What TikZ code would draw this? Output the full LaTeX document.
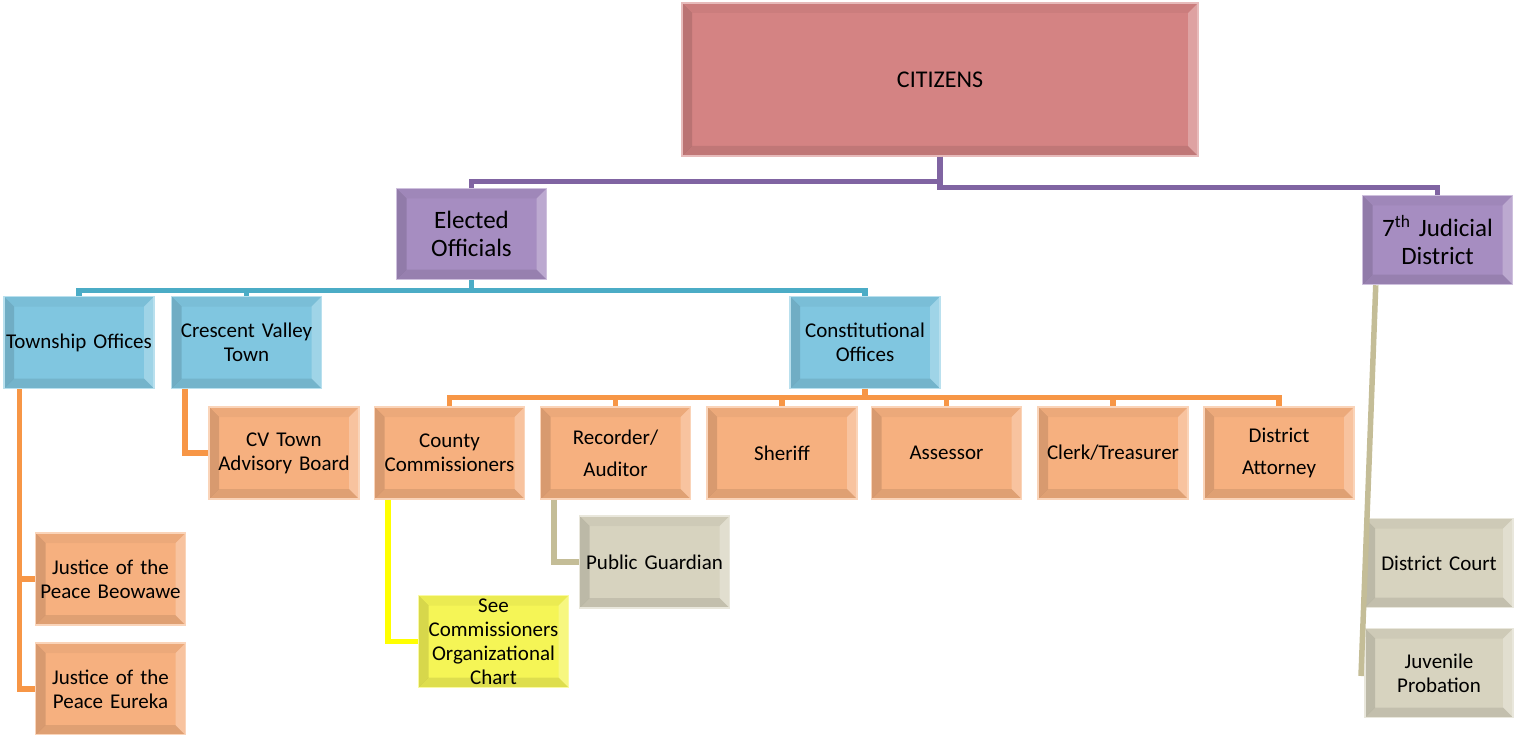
\documentclass[tikz,border=0pt]{standalone}
\usepackage{fontspec}
\setmainfont{Carlito}
\definecolor{citc}{HTML}{D48383}
\definecolor{purc}{HTML}{A68DC1}
\definecolor{bluc}{HTML}{80C6E0}
\definecolor{orac}{HTML}{F6B07F}
\definecolor{grac}{HTML}{D7D3BF}
\definecolor{yelc}{HTML}{F5F556}
\definecolor{lpur}{HTML}{8064A2}
\definecolor{lblu}{HTML}{4BACC6}
\definecolor{lora}{HTML}{F79646}
\definecolor{lyel}{HTML}{FFFF00}
\definecolor{lgra}{HTML}{C4BD97}
\tikzset{
  bevel/.style={path picture={
    \path (path picture bounding box.north west) coordinate (bvnw)
          (path picture bounding box.north east) coordinate (bvne)
          (path picture bounding box.south west) coordinate (bvsw)
          (path picture bounding box.south east) coordinate (bvse);
    \fill[black,opacity=.12] (bvnw) -- (bvsw) -- ([shift={(10pt,10pt)}]bvsw) -- ([shift={(10pt,-10pt)}]bvnw) -- cycle;
    \fill[black,opacity=.09] (bvsw) -- (bvse) -- ([shift={(-10pt,10pt)}]bvse) -- ([shift={(10pt,10pt)}]bvsw) -- cycle;
    \fill[white,opacity=.25] (bvse) -- (bvne) -- ([shift={(-10pt,-10pt)}]bvne) -- ([shift={(-10pt,10pt)}]bvse) -- cycle;
    \fill[black,opacity=.04] (bvnw) -- (bvne) -- ([shift={(-10pt,-10pt)}]bvne) -- ([shift={(10pt,-10pt)}]bvnw) -- cycle;
  }},
  box/.style={draw=#1!55!white, line width=1.5pt, fill=#1, bevel,
    minimum width=150pt, minimum height=92pt, align=center, inner sep=1pt,
    text width=148pt, font=\fontsize{21}{24}\selectfont},
  big/.style={font=\fontsize{25}{28}\selectfont},
  conn/.style={line width=5.5pt, draw=#1},
}
\begin{document}
\begin{tikzpicture}[x=1pt,y=-1pt]
\useasboundingbox (0,0) rectangle (1514,735);
% nodes
\node[box=citc, minimum width=516pt, minimum height=153pt, text width=500pt, font=\fontsize{24}{28}\selectfont] (cit) at (940,79.5) {CITIZENS};
\node[box=purc, big, minimum height=91pt] (eo) at (471.5,234) {Elected\\Officials};
\node[box=purc, big, minimum width=148pt, minimum height=89pt] (jd) at (1437.5,240) {7\textsuperscript{th} Judicial\\District};
\node[box=bluc, minimum height=92pt] (tw) at (79,342.5) {Township Offices};
\node[box=bluc, minimum height=92pt] (cv) at (246.5,342.5) {Crescent Valley\\Town};
\node[box=bluc, minimum height=92pt] (co) at (865,342.5) {Constitutional\\Offices};
\node[box=orac] (cvb) at (284,453) {CV Town\\Advisory Board};
\node[box=orac] (cc) at (449.5,453) {County\\Commissioners};
\node[box=orac] (ra) at (615.5,453) {Recorder/\\[8pt]Auditor};
\node[box=orac] (sh) at (782,453) {Sheriff};
\node[box=orac] (as) at (946.5,453) {Assessor};
\node[box=orac] (ct) at (1113,453) {Clerk/Treasurer};
\node[box=orac] (da) at (1279,453) {District\\[8pt]Attorney};
\node[box=grac] (pg) at (654.5,562) {Public Guardian};
\node[box=orac] (jb) at (110.5,579) {Justice of the\\Peace Beowawe};
\node[box=orac] (je) at (110.5,689) {Justice of the\\Peace Eureka};
\node[box=yelc] (see) at (493.5,641.5) {See\\Commissioners\\Organizational\\Chart};
\node[box=grac, minimum width=148pt, text width=146pt, minimum height=89pt] (dc) at (1439,563) {District Court};
\node[box=grac, minimum width=148pt, text width=146pt, minimum height=89pt] (jp) at (1439,673) {Juvenile\\Probation};
\coordinate (jend) at (1361,676);
% connectors
\draw[conn=lpur] (cit.south) -- ++(0,25) -| (eo.north);
\draw[conn=lpur] (cit.south) -- ++(0,31) -| (jd.north);
\draw[conn=lblu] (eo.south) -- ++(0,10) -| (tw.north);
\draw[conn=lblu] (eo.south) -- ++(0,10) -| (cv.north);
\draw[conn=lblu] (eo.south) -- ++(0,10) -| (co.north);
\foreach \n in {cc,ra,sh,as,ct,da}
  \draw[conn=lora] (co.south) -- ++(0,8) -| (\n.north);
\draw[conn=lora] ([xshift=16pt]tw.south west) |- (jb.west);
\draw[conn=lora] ([xshift=16pt]tw.south west) |- (je.west);
\draw[conn=lora] ([xshift=14pt]cv.south west) |- (cvb.west);
\draw[conn=lyel] ([xshift=14pt]cc.south west) |- (see.west);
\draw[conn=lgra] ([xshift=14pt]ra.south west) |- (pg.west);
\draw[conn=lgra] ([xshift=14pt]jd.south west) -- (jend);
\end{tikzpicture}
\end{document}
